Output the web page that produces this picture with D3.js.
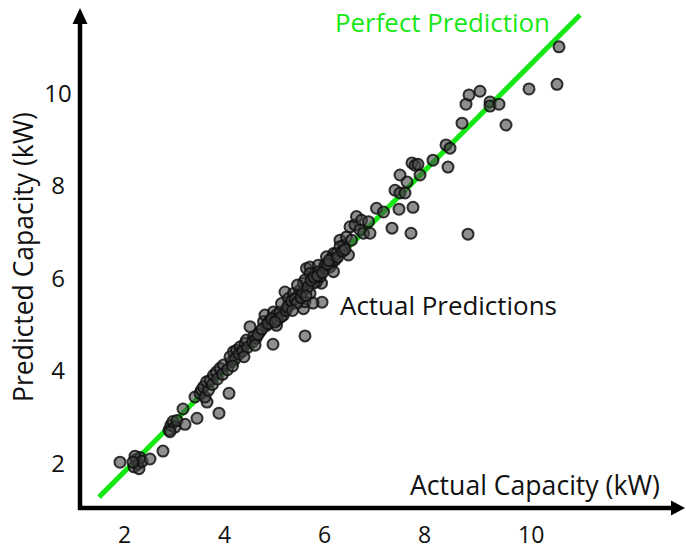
<!DOCTYPE html>
<html lang="en">
<head>
    <meta charset="UTF-8">
    <title>Predicted vs Actual Capacity</title>
    <script src="https://d3js.org/d3.v7.min.js"></script>
    <style>
        body { margin: 0; background: #fff; }
        text { font-family: "Open Sans", sans-serif; fill: #111; }
        .dot {
            fill: #444;
            fill-opacity: 0.6;
            stroke: #111;
            stroke-opacity: 0.85;
            stroke-width: 2;
        }
    </style>
</head>
<body>
    <svg id="chart" width="686" height="550"></svg>
    <script>
        // actual capacity (kW) of each system
        const actual = [
            1.90, 2.18, 2.22, 2.26, 2.30, 2.20, 2.28, 2.34, 2.16, 2.50, 2.76,
            2.88, 2.92, 2.96, 3.00, 2.90, 3.04, 3.16, 3.20, 3.44, 3.40, 3.50, 3.64, 3.88, 4.08,
            3.53, 3.60, 3.57, 3.67, 3.63, 3.70, 3.77, 3.83, 3.90, 3.97, 4.13, 4.10, 4.17, 4.23,
            4.30, 4.40, 4.43, 4.57, 4.50, 4.70, 4.83, 5.03, 4.77, 4.80, 4.90, 4.97, 5.03, 5.17,
            5.10, 5.13, 5.30, 5.20, 5.27, 5.37, 5.57, 5.60, 5.70, 5.47, 5.50, 5.57, 5.63, 5.70,
            5.93, 5.83, 5.80, 5.87, 6.00, 6.13, 6.17, 6.03, 5.70, 5.87, 5.77, 5.60, 6.13, 6.23,
            6.00, 6.10, 6.20, 6.30, 6.37, 6.47, 6.43, 6.53, 6.50, 6.60, 6.63, 6.73, 6.70, 6.77,
            6.87, 6.90, 6.30, 5.90, 6.17, 4.96, 5.60, 5.94, 5.76,
            3.75, 3.85, 3.95, 4.05, 4.20, 4.28, 4.35, 4.45, 4.55, 4.62, 4.66, 4.74, 4.86, 4.93,
            5.05, 5.12, 5.22, 5.25, 5.33, 5.40, 5.44, 5.52, 5.55, 5.65, 5.72, 5.78, 5.85, 5.95,
            6.05, 6.08, 6.25, 6.35, 6.40, 4.15, 4.38, 4.60, 5.00, 5.35, 5.45, 5.62,
            7.03, 7.17, 7.34, 7.48, 7.72, 7.76, 7.40, 7.50, 7.60, 7.64, 7.50, 7.90, 7.74, 7.80,
            7.86, 8.16, 8.46, 8.42, 8.50, 8.86, 8.74, 8.82, 8.88, 9.10, 9.30, 9.30, 9.48, 9.62,
            10.08, 10.64, 10.68
        ];
        // predicted capacity (kW), same order
        const predicted = [
            2.02, 1.92, 2.08, 1.98, 2.12, 2.15, 1.88, 2.04, 2.02, 2.09, 2.26,
            2.72, 2.82, 2.90, 2.78, 2.68, 2.92, 3.17, 2.84, 2.97, 3.43, 3.51, 3.32, 3.08, 3.51,
            3.58, 3.43, 3.65, 3.58, 3.76, 3.79, 3.90, 3.97, 4.05, 4.12, 4.19, 4.30, 4.41, 4.44,
            4.51, 4.59, 4.66, 4.73, 4.95, 4.84, 4.98, 4.98, 5.06, 5.20, 5.09, 5.27, 5.20, 5.20,
            5.27, 5.45, 5.42, 5.70, 5.56, 5.67, 5.34, 5.49, 5.67, 5.63, 5.74, 5.89, 6.21, 6.24,
            5.89, 5.92, 6.10, 6.28, 6.21, 6.32, 6.53, 6.46, 6.10, 6.14, 5.89, 5.96, 6.43, 6.53,
            6.28, 6.24, 6.39, 6.82, 6.71, 6.50, 6.89, 6.82, 7.11, 7.15, 7.33, 7.25, 7.04, 6.97,
            7.22, 6.97, 6.68, 6.03, 6.14, 4.57, 4.75, 5.48, 5.46,
            3.70, 3.82, 3.92, 4.02, 4.25, 4.36, 4.42, 4.50, 4.62, 4.70, 4.78, 4.90, 5.02, 5.12,
            5.10, 5.16, 5.30, 5.38, 5.50, 5.55, 5.46, 5.58, 5.70, 5.80, 5.95, 6.02, 6.05, 6.12,
            6.30, 6.38, 6.45, 6.58, 6.62, 4.10, 4.30, 4.55, 5.05, 5.30, 5.85, 5.62,
            7.51, 7.43, 7.08, 7.49, 6.97, 7.53, 7.90, 7.84, 7.84, 8.08, 8.23, 8.23, 8.49, 8.44,
            8.46, 8.55, 8.40, 8.88, 8.81, 6.95, 9.35, 9.76, 9.96, 10.04, 9.81, 9.72, 9.76, 9.31,
            10.09, 10.19, 11.00
        ];

        const xTicks = [2, 4, 6, 8, 10];
        const yTicks = [2, 4, 6, 8, 10];
        // reference line as drawn in the figure (start, end)
        const perfectX = [1.48, 11.1];
        const perfectY = [1.265, 11.69];

        const svg = d3.select("#chart");

        // axis arrows start at the corner and run to the edge of the picture
        const x = d3.scaleLinear().domain([1.1, 13.2]).range([80, 685]);
        const y = d3.scaleLinear().domain([1.03, 11.84]).range([508, 8]);

        // fit a text to a target width
        function fitText(sel, width) {
            const fs = parseFloat(sel.attr("font-size"));
            const len = sel.node().getComputedTextLength();
            sel.attr("font-size", fs * width / len);
        }

        // perfect prediction line
        svg.append("line")
            .attr("x1", x(perfectX[0]))
            .attr("y1", y(perfectY[0]))
            .attr("x2", x(perfectX[1]))
            .attr("y2", y(perfectY[1]))
            .attr("stroke", "#16e816")
            .attr("stroke-width", 5);

        // points
        svg.append("g")
            .selectAll("circle")
            .data(actual.map((a, i) => [a, predicted[i]]))
            .join("circle")
            .attr("class", "dot")
            .attr("cx", d => x(d[0]))
            .attr("cy", d => y(d[1]))
            .attr("r", 5.5);

        // axes with arrow heads
        const x0 = x.domain()[0], y0 = y.domain()[0];
        svg.append("line")
            .attr("x1", x(x0)).attr("y1", y(y0) + 2)
            .attr("x2", x(x0)).attr("y2", y.range()[1] + 12)
            .attr("stroke", "#000").attr("stroke-width", 4.5);
        svg.append("line")
            .attr("x1", x(x0) - 2).attr("y1", y(y0))
            .attr("x2", x.range()[1] - 12).attr("y2", y(y0))
            .attr("stroke", "#000").attr("stroke-width", 4.5);
        const tipY = y.range()[1], tipX = x.range()[1];
        svg.append("path")
            .attr("d", `M${x(x0)},${tipY} L${x(x0) - 7.5},${tipY + 16} L${x(x0) + 7.5},${tipY + 16} Z`)
            .attr("fill", "#000");
        svg.append("path")
            .attr("d", `M${tipX},${y(y0)} L${tipX - 14},${y(y0) - 7.5} L${tipX - 14},${y(y0) + 7.5} Z`)
            .attr("fill", "#000");

        // tick labels
        svg.append("g")
            .selectAll("text")
            .data(xTicks)
            .join("text")
            .attr("x", d => x(d) - 7)
            .attr("y", 543)
            .attr("font-size", 23)
            .text(d => d);

        svg.append("g")
            .selectAll("text")
            .data(yTicks)
            .join("text")
            .attr("x", 58)
            .attr("y", d => y(d))
            .attr("dy", "0.36em")
            .attr("text-anchor", "middle")
            .attr("font-size", 24)
            .text(d => d);

        // titles and annotations
        const xTitle = svg.append("text")
            .attr("x", 410).attr("y", 495)
            .attr("font-size", 24)
            .text("Actual Capacity (kW)");
        fitText(xTitle, 250);

        const yTitle = svg.append("text")
            .attr("transform", "translate(33,257) rotate(-90)")
            .attr("text-anchor", "middle")
            .attr("font-size", 24)
            .text("Predicted Capacity (kW)");
        fitText(yTitle, 290);

        const perfect = svg.append("text")
            .attr("x", 335).attr("y", 32)
            .attr("font-size", 24)
            .style("fill", "#16e816")
            .text("Perfect Prediction");
        fitText(perfect, 215);

        const preds = svg.append("text")
            .attr("x", 340).attr("y", 315)
            .attr("font-size", 24)
            .text("Actual Predictions");
        fitText(preds, 217);
    </script>
</body>
</html>
